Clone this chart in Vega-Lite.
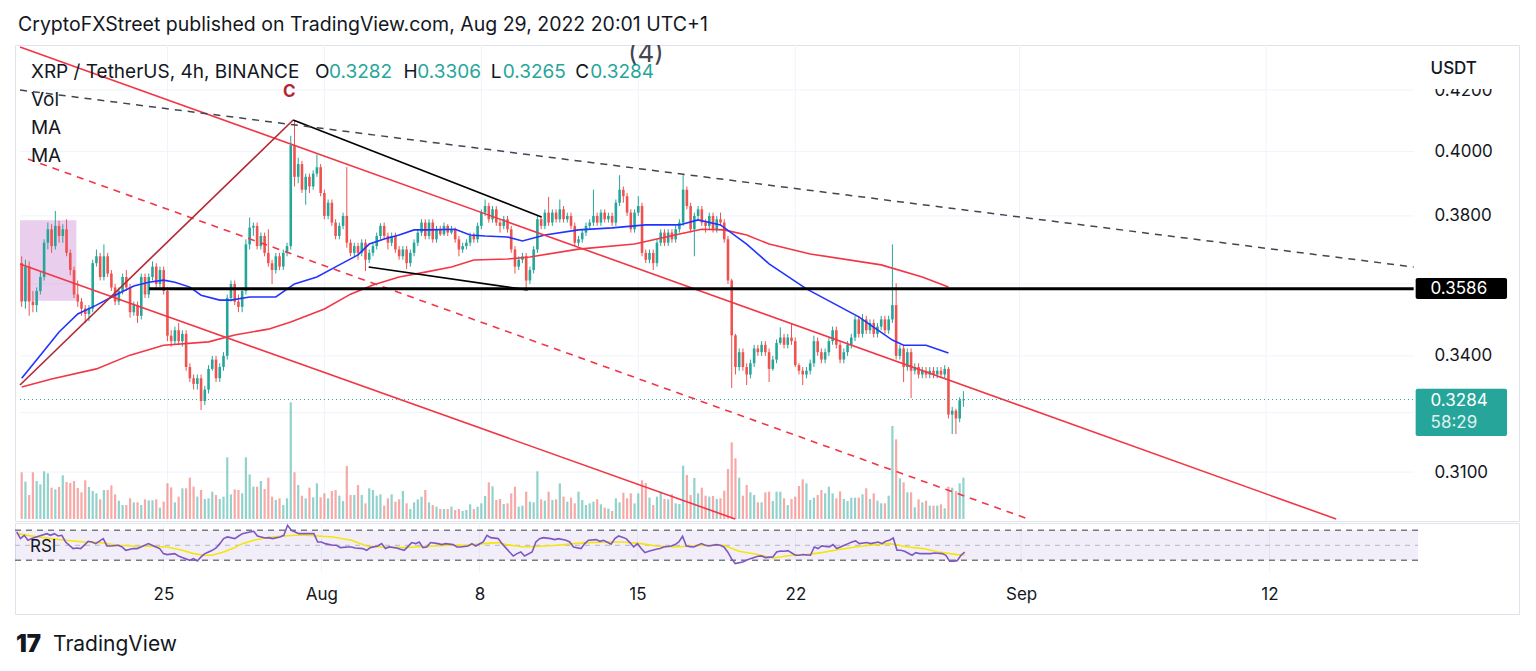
{
"$schema":"https://vega.github.io/schema/vega-lite/v6.json",
"background":"#ffffff",
"padding":{"left":13,"top":14,"right":17,"bottom":4},
"bounds":"flush",
"config":{"font":"Inter","view":{"stroke":"#e0e3eb"}},
"title":{"text":"CryptoFXStreet published on TradingView.com, Aug 29, 2022 20:01 UTC+1","anchor":"start","fontSize":19.5,"fontWeight":400,"color":"#131722","offset":9,"dx":5},
"spacing":2,
"datasets":{
"candles":[
{"t":"2022-07-18T12:00","o":0.366,"h":0.368,"l":0.3535,"c":0.355,"v":140},
{"t":"2022-07-18T16:00","o":0.355,"h":0.367,"l":0.353,"c":0.365,"v":112},
{"t":"2022-07-18T20:00","o":0.365,"h":0.3665,"l":0.351,"c":0.355,"v":72},
{"t":"2022-07-19T00:00","o":0.355,"h":0.358,"l":0.352,"c":0.354,"v":140},
{"t":"2022-07-19T04:00","o":0.354,"h":0.359,"l":0.352,"c":0.358,"v":114},
{"t":"2022-07-19T08:00","o":0.358,"h":0.3635,"l":0.357,"c":0.362,"v":104},
{"t":"2022-07-19T12:00","o":0.362,"h":0.373,"l":0.361,"c":0.372,"v":143},
{"t":"2022-07-19T16:00","o":0.372,"h":0.378,"l":0.370,"c":0.376,"v":137},
{"t":"2022-07-19T20:00","o":0.376,"h":0.3775,"l":0.369,"c":0.371,"v":94},
{"t":"2022-07-20T00:00","o":0.371,"h":0.3815,"l":0.370,"c":0.377,"v":89},
{"t":"2022-07-20T04:00","o":0.377,"h":0.3785,"l":0.372,"c":0.374,"v":96},
{"t":"2022-07-20T08:00","o":0.374,"h":0.3775,"l":0.372,"c":0.376,"v":131},
{"t":"2022-07-20T12:00","o":0.376,"h":0.379,"l":0.368,"c":0.369,"v":111},
{"t":"2022-07-20T16:00","o":0.369,"h":0.370,"l":0.3625,"c":0.364,"v":108},
{"t":"2022-07-20T20:00","o":0.364,"h":0.365,"l":0.356,"c":0.357,"v":114},
{"t":"2022-07-21T00:00","o":0.357,"h":0.361,"l":0.3535,"c":0.355,"v":93},
{"t":"2022-07-21T04:00","o":0.355,"h":0.356,"l":0.351,"c":0.353,"v":80},
{"t":"2022-07-21T08:00","o":0.353,"h":0.354,"l":0.349,"c":0.3515,"v":116},
{"t":"2022-07-21T12:00","o":0.3515,"h":0.354,"l":0.3495,"c":0.353,"v":96},
{"t":"2022-07-21T16:00","o":0.353,"h":0.367,"l":0.352,"c":0.366,"v":84},
{"t":"2022-07-21T20:00","o":0.366,"h":0.370,"l":0.365,"c":0.368,"v":77},
{"t":"2022-07-22T00:00","o":0.368,"h":0.369,"l":0.361,"c":0.362,"v":59},
{"t":"2022-07-22T04:00","o":0.362,"h":0.3715,"l":0.361,"c":0.368,"v":87},
{"t":"2022-07-22T08:00","o":0.368,"h":0.369,"l":0.362,"c":0.363,"v":87},
{"t":"2022-07-22T12:00","o":0.363,"h":0.364,"l":0.358,"c":0.359,"v":101},
{"t":"2022-07-22T16:00","o":0.359,"h":0.360,"l":0.354,"c":0.355,"v":74},
{"t":"2022-07-22T20:00","o":0.355,"h":0.359,"l":0.354,"c":0.358,"v":55},
{"t":"2022-07-23T00:00","o":0.358,"h":0.363,"l":0.357,"c":0.362,"v":42},
{"t":"2022-07-23T04:00","o":0.362,"h":0.364,"l":0.358,"c":0.359,"v":42},
{"t":"2022-07-23T08:00","o":0.359,"h":0.360,"l":0.3505,"c":0.352,"v":62},
{"t":"2022-07-23T12:00","o":0.352,"h":0.355,"l":0.351,"c":0.354,"v":50},
{"t":"2022-07-23T16:00","o":0.354,"h":0.355,"l":0.349,"c":0.351,"v":50},
{"t":"2022-07-23T20:00","o":0.351,"h":0.363,"l":0.350,"c":0.362,"v":42},
{"t":"2022-07-24T00:00","o":0.362,"h":0.363,"l":0.356,"c":0.357,"v":59},
{"t":"2022-07-24T04:00","o":0.357,"h":0.363,"l":0.356,"c":0.362,"v":56},
{"t":"2022-07-24T08:00","o":0.362,"h":0.3665,"l":0.361,"c":0.365,"v":56},
{"t":"2022-07-24T12:00","o":0.365,"h":0.366,"l":0.359,"c":0.360,"v":59},
{"t":"2022-07-24T16:00","o":0.360,"h":0.365,"l":0.359,"c":0.364,"v":34},
{"t":"2022-07-24T20:00","o":0.364,"h":0.365,"l":0.357,"c":0.358,"v":52},
{"t":"2022-07-25T00:00","o":0.358,"h":0.359,"l":0.344,"c":0.3455,"v":107},
{"t":"2022-07-25T04:00","o":0.3455,"h":0.347,"l":0.3425,"c":0.344,"v":95},
{"t":"2022-07-25T08:00","o":0.344,"h":0.348,"l":0.343,"c":0.347,"v":50},
{"t":"2022-07-25T12:00","o":0.347,"h":0.349,"l":0.343,"c":0.344,"v":67},
{"t":"2022-07-25T16:00","o":0.344,"h":0.347,"l":0.3425,"c":0.346,"v":92},
{"t":"2022-07-25T20:00","o":0.346,"h":0.347,"l":0.336,"c":0.337,"v":92},
{"t":"2022-07-26T00:00","o":0.337,"h":0.338,"l":0.333,"c":0.334,"v":124},
{"t":"2022-07-26T04:00","o":0.334,"h":0.335,"l":0.331,"c":0.3325,"v":97},
{"t":"2022-07-26T08:00","o":0.3325,"h":0.335,"l":0.331,"c":0.334,"v":67},
{"t":"2022-07-26T12:00","o":0.334,"h":0.335,"l":0.3257,"c":0.328,"v":87},
{"t":"2022-07-26T16:00","o":0.328,"h":0.332,"l":0.327,"c":0.331,"v":60},
{"t":"2022-07-26T20:00","o":0.331,"h":0.3375,"l":0.330,"c":0.3365,"v":62},
{"t":"2022-07-27T00:00","o":0.3365,"h":0.340,"l":0.336,"c":0.339,"v":82},
{"t":"2022-07-27T04:00","o":0.339,"h":0.340,"l":0.333,"c":0.334,"v":72},
{"t":"2022-07-27T08:00","o":0.334,"h":0.338,"l":0.333,"c":0.337,"v":60},
{"t":"2022-07-27T12:00","o":0.337,"h":0.341,"l":0.336,"c":0.340,"v":67},
{"t":"2022-07-27T16:00","o":0.340,"h":0.357,"l":0.339,"c":0.356,"v":185},
{"t":"2022-07-27T20:00","o":0.356,"h":0.361,"l":0.355,"c":0.360,"v":74},
{"t":"2022-07-28T00:00","o":0.360,"h":0.361,"l":0.354,"c":0.355,"v":89},
{"t":"2022-07-28T04:00","o":0.355,"h":0.357,"l":0.352,"c":0.3535,"v":87},
{"t":"2022-07-28T08:00","o":0.3535,"h":0.359,"l":0.352,"c":0.358,"v":77},
{"t":"2022-07-28T12:00","o":0.358,"h":0.373,"l":0.357,"c":0.3715,"v":185},
{"t":"2022-07-28T16:00","o":0.3715,"h":0.3795,"l":0.370,"c":0.3765,"v":134},
{"t":"2022-07-28T20:00","o":0.3765,"h":0.378,"l":0.374,"c":0.377,"v":97},
{"t":"2022-07-29T00:00","o":0.377,"h":0.378,"l":0.370,"c":0.371,"v":97},
{"t":"2022-07-29T04:00","o":0.371,"h":0.375,"l":0.370,"c":0.374,"v":114},
{"t":"2022-07-29T08:00","o":0.374,"h":0.375,"l":0.368,"c":0.369,"v":90},
{"t":"2022-07-29T12:00","o":0.369,"h":0.376,"l":0.365,"c":0.366,"v":124},
{"t":"2022-07-29T16:00","o":0.366,"h":0.367,"l":0.360,"c":0.364,"v":67},
{"t":"2022-07-29T20:00","o":0.364,"h":0.369,"l":0.363,"c":0.368,"v":57},
{"t":"2022-07-30T00:00","o":0.368,"h":0.369,"l":0.364,"c":0.365,"v":62},
{"t":"2022-07-30T04:00","o":0.365,"h":0.370,"l":0.364,"c":0.369,"v":42},
{"t":"2022-07-30T08:00","o":0.369,"h":0.372,"l":0.368,"c":0.371,"v":62},
{"t":"2022-07-30T12:00","o":0.371,"h":0.405,"l":0.370,"c":0.402,"v":350},
{"t":"2022-07-30T16:00","o":0.402,"h":0.410,"l":0.389,"c":0.392,"v":140},
{"t":"2022-07-30T20:00","o":0.392,"h":0.398,"l":0.390,"c":0.396,"v":102},
{"t":"2022-07-31T00:00","o":0.396,"h":0.397,"l":0.387,"c":0.388,"v":70},
{"t":"2022-07-31T04:00","o":0.388,"h":0.393,"l":0.3834,"c":0.392,"v":62},
{"t":"2022-07-31T08:00","o":0.392,"h":0.393,"l":0.387,"c":0.389,"v":94},
{"t":"2022-07-31T12:00","o":0.389,"h":0.394,"l":0.388,"c":0.393,"v":65},
{"t":"2022-07-31T16:00","o":0.393,"h":0.399,"l":0.392,"c":0.395,"v":107},
{"t":"2022-07-31T20:00","o":0.395,"h":0.396,"l":0.386,"c":0.387,"v":65},
{"t":"2022-08-01T00:00","o":0.387,"h":0.388,"l":0.379,"c":0.380,"v":77},
{"t":"2022-08-01T04:00","o":0.380,"h":0.385,"l":0.379,"c":0.384,"v":62},
{"t":"2022-08-01T08:00","o":0.384,"h":0.385,"l":0.377,"c":0.378,"v":84},
{"t":"2022-08-01T12:00","o":0.378,"h":0.379,"l":0.373,"c":0.374,"v":87},
{"t":"2022-08-01T16:00","o":0.374,"h":0.378,"l":0.373,"c":0.377,"v":70},
{"t":"2022-08-01T20:00","o":0.377,"h":0.381,"l":0.376,"c":0.380,"v":54},
{"t":"2022-08-02T00:00","o":0.380,"h":0.395,"l":0.3705,"c":0.372,"v":159},
{"t":"2022-08-02T04:00","o":0.372,"h":0.373,"l":0.368,"c":0.369,"v":72},
{"t":"2022-08-02T08:00","o":0.369,"h":0.372,"l":0.368,"c":0.371,"v":72},
{"t":"2022-08-02T12:00","o":0.371,"h":0.372,"l":0.367,"c":0.369,"v":102},
{"t":"2022-08-02T16:00","o":0.369,"h":0.373,"l":0.368,"c":0.372,"v":72},
{"t":"2022-08-02T20:00","o":0.372,"h":0.373,"l":0.3637,"c":0.367,"v":47},
{"t":"2022-08-03T00:00","o":0.367,"h":0.370,"l":0.366,"c":0.369,"v":92},
{"t":"2022-08-03T04:00","o":0.369,"h":0.372,"l":0.368,"c":0.371,"v":87},
{"t":"2022-08-03T08:00","o":0.371,"h":0.375,"l":0.370,"c":0.374,"v":70},
{"t":"2022-08-03T12:00","o":0.374,"h":0.3778,"l":0.373,"c":0.377,"v":74},
{"t":"2022-08-03T16:00","o":0.377,"h":0.378,"l":0.373,"c":0.374,"v":40},
{"t":"2022-08-03T20:00","o":0.374,"h":0.375,"l":0.370,"c":0.372,"v":62},
{"t":"2022-08-04T00:00","o":0.372,"h":0.375,"l":0.371,"c":0.374,"v":74},
{"t":"2022-08-04T04:00","o":0.374,"h":0.375,"l":0.369,"c":0.370,"v":52},
{"t":"2022-08-04T08:00","o":0.370,"h":0.371,"l":0.367,"c":0.368,"v":59},
{"t":"2022-08-04T12:00","o":0.368,"h":0.371,"l":0.367,"c":0.370,"v":84},
{"t":"2022-08-04T16:00","o":0.370,"h":0.371,"l":0.3643,"c":0.366,"v":47},
{"t":"2022-08-04T20:00","o":0.366,"h":0.370,"l":0.365,"c":0.369,"v":30},
{"t":"2022-08-05T00:00","o":0.369,"h":0.373,"l":0.368,"c":0.372,"v":50},
{"t":"2022-08-05T04:00","o":0.372,"h":0.376,"l":0.371,"c":0.375,"v":59},
{"t":"2022-08-05T08:00","o":0.375,"h":0.379,"l":0.374,"c":0.378,"v":67},
{"t":"2022-08-05T12:00","o":0.378,"h":0.379,"l":0.373,"c":0.374,"v":87},
{"t":"2022-08-05T16:00","o":0.374,"h":0.379,"l":0.373,"c":0.378,"v":50},
{"t":"2022-08-05T20:00","o":0.378,"h":0.379,"l":0.372,"c":0.373,"v":42},
{"t":"2022-08-06T00:00","o":0.373,"h":0.377,"l":0.372,"c":0.376,"v":37},
{"t":"2022-08-06T04:00","o":0.376,"h":0.377,"l":0.374,"c":0.3745,"v":30},
{"t":"2022-08-06T08:00","o":0.3745,"h":0.378,"l":0.374,"c":0.377,"v":30},
{"t":"2022-08-06T12:00","o":0.377,"h":0.3775,"l":0.374,"c":0.375,"v":30},
{"t":"2022-08-06T16:00","o":0.375,"h":0.377,"l":0.3745,"c":0.376,"v":37},
{"t":"2022-08-06T20:00","o":0.376,"h":0.3765,"l":0.372,"c":0.373,"v":27},
{"t":"2022-08-07T00:00","o":0.373,"h":0.374,"l":0.368,"c":0.370,"v":30},
{"t":"2022-08-07T04:00","o":0.370,"h":0.372,"l":0.369,"c":0.371,"v":24},
{"t":"2022-08-07T08:00","o":0.371,"h":0.373,"l":0.370,"c":0.372,"v":27},
{"t":"2022-08-07T12:00","o":0.372,"h":0.375,"l":0.371,"c":0.374,"v":44},
{"t":"2022-08-07T16:00","o":0.374,"h":0.375,"l":0.372,"c":0.373,"v":30},
{"t":"2022-08-07T20:00","o":0.373,"h":0.378,"l":0.372,"c":0.377,"v":37},
{"t":"2022-08-08T00:00","o":0.377,"h":0.382,"l":0.376,"c":0.381,"v":47},
{"t":"2022-08-08T04:00","o":0.381,"h":0.385,"l":0.380,"c":0.383,"v":69},
{"t":"2022-08-08T08:00","o":0.383,"h":0.384,"l":0.378,"c":0.379,"v":110},
{"t":"2022-08-08T12:00","o":0.379,"h":0.383,"l":0.378,"c":0.382,"v":98},
{"t":"2022-08-08T16:00","o":0.382,"h":0.383,"l":0.377,"c":0.378,"v":57},
{"t":"2022-08-08T20:00","o":0.378,"h":0.379,"l":0.375,"c":0.377,"v":60},
{"t":"2022-08-09T00:00","o":0.377,"h":0.380,"l":0.376,"c":0.379,"v":45},
{"t":"2022-08-09T04:00","o":0.379,"h":0.380,"l":0.375,"c":0.376,"v":47},
{"t":"2022-08-09T08:00","o":0.376,"h":0.377,"l":0.369,"c":0.370,"v":77},
{"t":"2022-08-09T12:00","o":0.370,"h":0.371,"l":0.363,"c":0.365,"v":97},
{"t":"2022-08-09T16:00","o":0.365,"h":0.368,"l":0.364,"c":0.367,"v":37},
{"t":"2022-08-09T20:00","o":0.367,"h":0.369,"l":0.366,"c":0.368,"v":40},
{"t":"2022-08-10T00:00","o":0.368,"h":0.369,"l":0.3586,"c":0.361,"v":82},
{"t":"2022-08-10T04:00","o":0.361,"h":0.365,"l":0.360,"c":0.364,"v":52},
{"t":"2022-08-10T08:00","o":0.364,"h":0.371,"l":0.363,"c":0.370,"v":50},
{"t":"2022-08-10T12:00","o":0.370,"h":0.380,"l":0.369,"c":0.379,"v":143},
{"t":"2022-08-10T16:00","o":0.379,"h":0.380,"l":0.376,"c":0.377,"v":59},
{"t":"2022-08-10T20:00","o":0.377,"h":0.382,"l":0.376,"c":0.381,"v":55},
{"t":"2022-08-11T00:00","o":0.381,"h":0.3858,"l":0.377,"c":0.378,"v":82},
{"t":"2022-08-11T04:00","o":0.378,"h":0.382,"l":0.377,"c":0.381,"v":57},
{"t":"2022-08-11T08:00","o":0.381,"h":0.382,"l":0.378,"c":0.379,"v":59},
{"t":"2022-08-11T12:00","o":0.379,"h":0.385,"l":0.378,"c":0.382,"v":107},
{"t":"2022-08-11T16:00","o":0.382,"h":0.383,"l":0.378,"c":0.379,"v":67},
{"t":"2022-08-11T20:00","o":0.379,"h":0.381,"l":0.378,"c":0.380,"v":52},
{"t":"2022-08-12T00:00","o":0.380,"h":0.381,"l":0.376,"c":0.377,"v":64},
{"t":"2022-08-12T04:00","o":0.377,"h":0.378,"l":0.371,"c":0.372,"v":47},
{"t":"2022-08-12T08:00","o":0.372,"h":0.374,"l":0.371,"c":0.373,"v":82},
{"t":"2022-08-12T12:00","o":0.373,"h":0.376,"l":0.372,"c":0.375,"v":57},
{"t":"2022-08-12T16:00","o":0.375,"h":0.378,"l":0.374,"c":0.377,"v":42},
{"t":"2022-08-12T20:00","o":0.377,"h":0.379,"l":0.376,"c":0.378,"v":47},
{"t":"2022-08-13T00:00","o":0.378,"h":0.388,"l":0.377,"c":0.380,"v":52},
{"t":"2022-08-13T04:00","o":0.380,"h":0.381,"l":0.377,"c":0.378,"v":59},
{"t":"2022-08-13T08:00","o":0.378,"h":0.382,"l":0.377,"c":0.381,"v":44},
{"t":"2022-08-13T12:00","o":0.381,"h":0.382,"l":0.378,"c":0.379,"v":34},
{"t":"2022-08-13T16:00","o":0.379,"h":0.381,"l":0.378,"c":0.380,"v":31},
{"t":"2022-08-13T20:00","o":0.380,"h":0.381,"l":0.377,"c":0.378,"v":24},
{"t":"2022-08-14T00:00","o":0.378,"h":0.385,"l":0.377,"c":0.384,"v":62},
{"t":"2022-08-14T04:00","o":0.384,"h":0.3925,"l":0.383,"c":0.388,"v":50},
{"t":"2022-08-14T08:00","o":0.388,"h":0.389,"l":0.384,"c":0.386,"v":79},
{"t":"2022-08-14T12:00","o":0.386,"h":0.387,"l":0.380,"c":0.381,"v":62},
{"t":"2022-08-14T16:00","o":0.381,"h":0.382,"l":0.375,"c":0.376,"v":77},
{"t":"2022-08-14T20:00","o":0.376,"h":0.382,"l":0.375,"c":0.381,"v":47},
{"t":"2022-08-15T00:00","o":0.381,"h":0.386,"l":0.380,"c":0.383,"v":77},
{"t":"2022-08-15T04:00","o":0.383,"h":0.384,"l":0.368,"c":0.369,"v":116},
{"t":"2022-08-15T08:00","o":0.369,"h":0.370,"l":0.366,"c":0.367,"v":108},
{"t":"2022-08-15T12:00","o":0.367,"h":0.370,"l":0.366,"c":0.369,"v":64},
{"t":"2022-08-15T16:00","o":0.369,"h":0.370,"l":0.364,"c":0.366,"v":42},
{"t":"2022-08-15T20:00","o":0.366,"h":0.373,"l":0.365,"c":0.372,"v":67},
{"t":"2022-08-16T00:00","o":0.372,"h":0.376,"l":0.371,"c":0.375,"v":82},
{"t":"2022-08-16T04:00","o":0.375,"h":0.376,"l":0.371,"c":0.372,"v":60},
{"t":"2022-08-16T08:00","o":0.372,"h":0.376,"l":0.371,"c":0.375,"v":59},
{"t":"2022-08-16T12:00","o":0.375,"h":0.376,"l":0.372,"c":0.373,"v":74},
{"t":"2022-08-16T16:00","o":0.373,"h":0.377,"l":0.372,"c":0.376,"v":47},
{"t":"2022-08-16T20:00","o":0.376,"h":0.379,"l":0.375,"c":0.378,"v":45},
{"t":"2022-08-17T00:00","o":0.378,"h":0.3925,"l":0.377,"c":0.388,"v":160},
{"t":"2022-08-17T04:00","o":0.388,"h":0.389,"l":0.382,"c":0.383,"v":132},
{"t":"2022-08-17T08:00","o":0.383,"h":0.384,"l":0.375,"c":0.376,"v":72},
{"t":"2022-08-17T12:00","o":0.376,"h":0.381,"l":0.368,"c":0.380,"v":123},
{"t":"2022-08-17T16:00","o":0.380,"h":0.383,"l":0.379,"c":0.382,"v":77},
{"t":"2022-08-17T20:00","o":0.382,"h":0.383,"l":0.377,"c":0.378,"v":94},
{"t":"2022-08-18T00:00","o":0.378,"h":0.379,"l":0.375,"c":0.377,"v":70},
{"t":"2022-08-18T04:00","o":0.377,"h":0.381,"l":0.376,"c":0.380,"v":67},
{"t":"2022-08-18T08:00","o":0.380,"h":0.381,"l":0.375,"c":0.376,"v":69},
{"t":"2022-08-18T12:00","o":0.376,"h":0.380,"l":0.375,"c":0.379,"v":60},
{"t":"2022-08-18T16:00","o":0.379,"h":0.381,"l":0.377,"c":0.378,"v":62},
{"t":"2022-08-18T20:00","o":0.378,"h":0.379,"l":0.372,"c":0.373,"v":85},
{"t":"2022-08-19T00:00","o":0.373,"h":0.374,"l":0.360,"c":0.361,"v":150},
{"t":"2022-08-19T04:00","o":0.361,"h":0.3615,"l":0.3314,"c":0.3456,"v":230},
{"t":"2022-08-19T08:00","o":0.3456,"h":0.346,"l":0.335,"c":0.337,"v":182},
{"t":"2022-08-19T12:00","o":0.337,"h":0.342,"l":0.336,"c":0.341,"v":124},
{"t":"2022-08-19T16:00","o":0.341,"h":0.342,"l":0.336,"c":0.337,"v":70},
{"t":"2022-08-19T20:00","o":0.337,"h":0.338,"l":0.3322,"c":0.335,"v":102},
{"t":"2022-08-20T00:00","o":0.335,"h":0.339,"l":0.334,"c":0.338,"v":80},
{"t":"2022-08-20T04:00","o":0.338,"h":0.343,"l":0.337,"c":0.342,"v":72},
{"t":"2022-08-20T08:00","o":0.342,"h":0.343,"l":0.340,"c":0.341,"v":50},
{"t":"2022-08-20T12:00","o":0.341,"h":0.344,"l":0.340,"c":0.343,"v":50},
{"t":"2022-08-20T16:00","o":0.343,"h":0.344,"l":0.340,"c":0.341,"v":80},
{"t":"2022-08-20T20:00","o":0.341,"h":0.342,"l":0.333,"c":0.3365,"v":82},
{"t":"2022-08-21T00:00","o":0.3365,"h":0.340,"l":0.336,"c":0.339,"v":54},
{"t":"2022-08-21T04:00","o":0.339,"h":0.3445,"l":0.338,"c":0.3435,"v":82},
{"t":"2022-08-21T08:00","o":0.3435,"h":0.3478,"l":0.343,"c":0.345,"v":82},
{"t":"2022-08-21T12:00","o":0.345,"h":0.346,"l":0.342,"c":0.343,"v":62},
{"t":"2022-08-21T16:00","o":0.343,"h":0.346,"l":0.342,"c":0.345,"v":42},
{"t":"2022-08-21T20:00","o":0.345,"h":0.349,"l":0.343,"c":0.344,"v":60},
{"t":"2022-08-22T00:00","o":0.344,"h":0.345,"l":0.337,"c":0.3375,"v":67},
{"t":"2022-08-22T04:00","o":0.3375,"h":0.338,"l":0.335,"c":0.336,"v":99},
{"t":"2022-08-22T08:00","o":0.336,"h":0.337,"l":0.3322,"c":0.335,"v":119},
{"t":"2022-08-22T12:00","o":0.335,"h":0.337,"l":0.334,"c":0.336,"v":107},
{"t":"2022-08-22T16:00","o":0.336,"h":0.339,"l":0.335,"c":0.338,"v":57},
{"t":"2022-08-22T20:00","o":0.338,"h":0.3455,"l":0.337,"c":0.344,"v":64},
{"t":"2022-08-23T00:00","o":0.344,"h":0.345,"l":0.340,"c":0.341,"v":72},
{"t":"2022-08-23T04:00","o":0.341,"h":0.342,"l":0.338,"c":0.339,"v":87},
{"t":"2022-08-23T08:00","o":0.339,"h":0.342,"l":0.338,"c":0.341,"v":77},
{"t":"2022-08-23T12:00","o":0.341,"h":0.345,"l":0.340,"c":0.344,"v":97},
{"t":"2022-08-23T16:00","o":0.344,"h":0.348,"l":0.343,"c":0.347,"v":77},
{"t":"2022-08-23T20:00","o":0.347,"h":0.348,"l":0.342,"c":0.343,"v":62},
{"t":"2022-08-24T00:00","o":0.343,"h":0.344,"l":0.338,"c":0.339,"v":83},
{"t":"2022-08-24T04:00","o":0.339,"h":0.342,"l":0.338,"c":0.341,"v":60},
{"t":"2022-08-24T08:00","o":0.341,"h":0.344,"l":0.340,"c":0.343,"v":54},
{"t":"2022-08-24T12:00","o":0.343,"h":0.346,"l":0.342,"c":0.345,"v":64},
{"t":"2022-08-24T16:00","o":0.345,"h":0.351,"l":0.344,"c":0.350,"v":64},
{"t":"2022-08-24T20:00","o":0.350,"h":0.351,"l":0.345,"c":0.346,"v":64},
{"t":"2022-08-25T00:00","o":0.346,"h":0.3515,"l":0.345,"c":0.350,"v":74},
{"t":"2022-08-25T04:00","o":0.350,"h":0.351,"l":0.346,"c":0.347,"v":92},
{"t":"2022-08-25T08:00","o":0.347,"h":0.350,"l":0.346,"c":0.349,"v":60},
{"t":"2022-08-25T12:00","o":0.349,"h":0.350,"l":0.345,"c":0.346,"v":77},
{"t":"2022-08-25T16:00","o":0.346,"h":0.349,"l":0.345,"c":0.348,"v":55},
{"t":"2022-08-25T20:00","o":0.348,"h":0.351,"l":0.347,"c":0.350,"v":47},
{"t":"2022-08-26T00:00","o":0.350,"h":0.351,"l":0.346,"c":0.347,"v":47},
{"t":"2022-08-26T04:00","o":0.347,"h":0.351,"l":0.346,"c":0.350,"v":70},
{"t":"2022-08-26T08:00","o":0.350,"h":0.3715,"l":0.349,"c":0.354,"v":279},
{"t":"2022-08-26T12:00","o":0.354,"h":0.3602,"l":0.339,"c":0.340,"v":239},
{"t":"2022-08-26T16:00","o":0.340,"h":0.343,"l":0.339,"c":0.342,"v":122},
{"t":"2022-08-26T20:00","o":0.342,"h":0.343,"l":0.333,"c":0.337,"v":110},
{"t":"2022-08-27T00:00","o":0.337,"h":0.342,"l":0.336,"c":0.341,"v":80},
{"t":"2022-08-27T04:00","o":0.341,"h":0.342,"l":0.3288,"c":0.336,"v":80},
{"t":"2022-08-27T08:00","o":0.336,"h":0.338,"l":0.335,"c":0.337,"v":35},
{"t":"2022-08-27T12:00","o":0.337,"h":0.338,"l":0.334,"c":0.335,"v":59},
{"t":"2022-08-27T16:00","o":0.335,"h":0.337,"l":0.334,"c":0.336,"v":50},
{"t":"2022-08-27T20:00","o":0.336,"h":0.337,"l":0.334,"c":0.335,"v":55},
{"t":"2022-08-28T00:00","o":0.335,"h":0.337,"l":0.334,"c":0.336,"v":40},
{"t":"2022-08-28T04:00","o":0.336,"h":0.337,"l":0.334,"c":0.335,"v":40},
{"t":"2022-08-28T08:00","o":0.335,"h":0.337,"l":0.334,"c":0.336,"v":40},
{"t":"2022-08-28T12:00","o":0.336,"h":0.337,"l":0.334,"c":0.335,"v":44},
{"t":"2022-08-28T16:00","o":0.335,"h":0.3375,"l":0.334,"c":0.3365,"v":32},
{"t":"2022-08-28T20:00","o":0.3365,"h":0.337,"l":0.3235,"c":0.3245,"v":97},
{"t":"2022-08-29T00:00","o":0.3245,"h":0.3265,"l":0.3195,"c":0.3255,"v":94},
{"t":"2022-08-29T04:00","o":0.3255,"h":0.326,"l":0.3195,"c":0.3235,"v":84},
{"t":"2022-08-29T08:00","o":0.3235,"h":0.329,"l":0.3225,"c":0.3282,"v":107},
{"t":"2022-08-29T12:00","o":0.3282,"h":0.3306,"l":0.3265,"c":0.3284,"v":124}
],
"maBlue":[
{"t":"2022-07-18T12:00","p":0.3340},{"t":"2022-07-19T08:00","p":0.3402},{"t":"2022-07-20T04:00","p":0.3465},{"t":"2022-07-21T00:00","p":0.3515},{"t":"2022-07-21T20:00","p":0.3540},{"t":"2022-07-22T16:00","p":0.3568},{"t":"2022-07-23T12:00","p":0.3594},{"t":"2022-07-24T04:00","p":0.3605},{"t":"2022-07-24T20:00","p":0.3611},{"t":"2022-07-25T08:00","p":0.3605},{"t":"2022-07-26T00:00","p":0.3591},{"t":"2022-07-26T12:00","p":0.3568},{"t":"2022-07-27T08:00","p":0.3554},{"t":"2022-07-27T20:00","p":0.3554},{"t":"2022-07-28T16:00","p":0.3563},{"t":"2022-07-29T20:00","p":0.3563},{"t":"2022-07-30T16:00","p":0.3600},{"t":"2022-07-31T16:00","p":0.3620},{"t":"2022-08-01T16:00","p":0.3655},{"t":"2022-08-02T12:00","p":0.3684},{"t":"2022-08-03T00:00","p":0.3716},{"t":"2022-08-03T16:00","p":0.3731},{"t":"2022-08-04T08:00","p":0.3743},{"t":"2022-08-05T00:00","p":0.3758},{"t":"2022-08-05T16:00","p":0.3758},{"t":"2022-08-06T20:00","p":0.3760},{"t":"2022-08-07T12:00","p":0.3743},{"t":"2022-08-08T04:00","p":0.3740},{"t":"2022-08-09T04:00","p":0.3737},{"t":"2022-08-09T20:00","p":0.3725},{"t":"2022-08-10T20:00","p":0.3743},{"t":"2022-08-12T08:00","p":0.3758},{"t":"2022-08-13T20:00","p":0.3764},{"t":"2022-08-15T08:00","p":0.3773},{"t":"2022-08-16T20:00","p":0.3773},{"t":"2022-08-17T16:00","p":0.3788},{"t":"2022-08-18T16:00","p":0.3773},{"t":"2022-08-19T20:00","p":0.3716},{"t":"2022-08-20T20:00","p":0.3658},{"t":"2022-08-22T12:00","p":0.3586},{"t":"2022-08-24T20:00","p":0.3507},{"t":"2022-08-26T08:00","p":0.3443},{"t":"2022-08-26T20:00","p":0.3429},{"t":"2022-08-27T20:00","p":0.3429},{"t":"2022-08-28T20:00","p":0.3408}
],
"maRed":[
{"t":"2022-07-18T12:00","p":0.3317},{"t":"2022-07-19T20:00","p":0.3338},{"t":"2022-07-21T20:00","p":0.3365},{"t":"2022-07-23T08:00","p":0.3402},{"t":"2022-07-24T20:00","p":0.3429},{"t":"2022-07-26T20:00","p":0.3438},{"t":"2022-07-28T00:00","p":0.3457},{"t":"2022-07-29T12:00","p":0.3473},{"t":"2022-07-30T12:00","p":0.3493},{"t":"2022-08-01T00:00","p":0.3529},{"t":"2022-08-02T04:00","p":0.3571},{"t":"2022-08-03T04:00","p":0.3597},{"t":"2022-08-04T08:00","p":0.3620},{"t":"2022-08-05T12:00","p":0.3634},{"t":"2022-08-06T16:00","p":0.3649},{"t":"2022-08-07T16:00","p":0.3669},{"t":"2022-08-09T04:00","p":0.3672},{"t":"2022-08-10T04:00","p":0.3678},{"t":"2022-08-12T08:00","p":0.3701},{"t":"2022-08-14T20:00","p":0.3716},{"t":"2022-08-16T20:00","p":0.3746},{"t":"2022-08-17T20:00","p":0.3760},{"t":"2022-08-18T20:00","p":0.3758},{"t":"2022-08-19T20:00","p":0.3743},{"t":"2022-08-20T20:00","p":0.3716},{"t":"2022-08-22T16:00","p":0.3687},{"t":"2022-08-25T20:00","p":0.3655},{"t":"2022-08-27T16:00","p":0.3620},{"t":"2022-08-28T20:00","p":0.3591}
],
"lines":[
{"name":"U","t1":"2022-07-18T10:11","p1":0.4346,"t2":"2022-09-15T03:00","p2":0.29865},
{"name":"L","t1":"2022-07-18T10:11","p1":0.36575,"t2":"2022-08-19T07:45","p2":0.29865},
{"name":"M","t1":"2022-07-18T18:42","p1":0.39758,"t2":"2022-09-01T09:25","p2":0.29865},
{"name":"R","t1":"2022-07-18T10:11","p1":0.33222,"t2":"2022-07-30T14:35","p2":0.4101},
{"name":"B1","t1":"2022-07-30T14:35","p1":0.4101,"t2":"2022-08-10T16:25","p2":0.37967},
{"name":"B2","t1":"2022-08-02T23:24","p1":0.36488,"t2":"2022-08-10T01:30","p2":0.3583},
{"name":"D","t1":"2022-07-18T10:11","p1":0.4200,"t2":"2022-09-18T13:58","p2":0.36488},
{"name":"H","t1":"2022-07-24T04:25","p1":0.3586,"t2":"2022-09-18T13:58","p2":0.3586}
],
"rsi":[
{"t":"2022-07-18T12:00","r":67.8},{"t":"2022-07-18T16:00","r":58.9},{"t":"2022-07-18T20:00","r":63.3},{"t":"2022-07-19T00:00","r":56.7},{"t":"2022-07-19T04:00","r":58.9},{"t":"2022-07-19T12:00","r":62.4},{"t":"2022-07-19T20:00","r":65.5},{"t":"2022-07-20T00:00","r":63.3},{"t":"2022-07-20T04:00","r":65.5},{"t":"2022-07-20T08:00","r":62.4},{"t":"2022-07-20T12:00","r":63.3},{"t":"2022-07-20T16:00","r":54.4},{"t":"2022-07-21T00:00","r":45.6},{"t":"2022-07-21T04:00","r":46.4},{"t":"2022-07-21T08:00","r":45.6},{"t":"2022-07-21T16:00","r":55.3},{"t":"2022-07-21T20:00","r":54.4},{"t":"2022-07-22T00:00","r":52.2},{"t":"2022-07-22T08:00","r":58.9},{"t":"2022-07-22T12:00","r":49.1},{"t":"2022-07-22T16:00","r":49.1},{"t":"2022-07-23T00:00","r":50},{"t":"2022-07-23T04:00","r":47.8},{"t":"2022-07-23T08:00","r":43.3},{"t":"2022-07-23T16:00","r":45.6},{"t":"2022-07-23T20:00","r":45.6},{"t":"2022-07-24T00:00","r":47.8},{"t":"2022-07-24T08:00","r":52.2},{"t":"2022-07-24T12:00","r":50},{"t":"2022-07-24T16:00","r":47.8},{"t":"2022-07-24T20:00","r":45.6},{"t":"2022-07-25T00:00","r":38.9},{"t":"2022-07-25T04:00","r":37.6},{"t":"2022-07-25T12:00","r":38.9},{"t":"2022-07-25T16:00","r":35.8},{"t":"2022-07-25T20:00","r":33.6},{"t":"2022-07-26T04:00","r":30},{"t":"2022-07-26T08:00","r":32.2},{"t":"2022-07-26T12:00","r":29.1},{"t":"2022-07-26T16:00","r":34.5},{"t":"2022-07-26T20:00","r":38.9},{"t":"2022-07-27T00:00","r":41.1},{"t":"2022-07-27T04:00","r":43.3},{"t":"2022-07-27T08:00","r":46.4},{"t":"2022-07-27T12:00","r":52.2},{"t":"2022-07-27T16:00","r":58.9},{"t":"2022-07-27T20:00","r":61.1},{"t":"2022-07-28T04:00","r":58.9},{"t":"2022-07-28T08:00","r":62.4},{"t":"2022-07-28T12:00","r":65.5},{"t":"2022-07-28T20:00","r":67.8},{"t":"2022-07-29T00:00","r":68.7},{"t":"2022-07-29T04:00","r":62.4},{"t":"2022-07-29T12:00","r":59.8},{"t":"2022-07-29T16:00","r":60.2},{"t":"2022-07-29T20:00","r":58.9},{"t":"2022-07-30T04:00","r":61.1},{"t":"2022-07-30T08:00","r":63.3},{"t":"2022-07-30T12:00","r":76.6},{"t":"2022-07-30T16:00","r":70},{"t":"2022-07-30T20:00","r":67.8},{"t":"2022-07-31T00:00","r":65.5},{"t":"2022-07-31T04:00","r":65.5},{"t":"2022-07-31T12:00","r":65.5},{"t":"2022-07-31T16:00","r":65.5},{"t":"2022-07-31T20:00","r":54.4},{"t":"2022-08-01T00:00","r":54.4},{"t":"2022-08-01T04:00","r":52.2},{"t":"2022-08-01T12:00","r":50},{"t":"2022-08-01T16:00","r":50},{"t":"2022-08-01T20:00","r":46.9},{"t":"2022-08-02T04:00","r":47.8},{"t":"2022-08-02T08:00","r":47.8},{"t":"2022-08-02T12:00","r":46.4},{"t":"2022-08-02T20:00","r":45.6},{"t":"2022-08-03T00:00","r":43.3},{"t":"2022-08-03T04:00","r":46.9},{"t":"2022-08-03T12:00","r":49.1},{"t":"2022-08-03T16:00","r":52.2},{"t":"2022-08-03T20:00","r":45.6},{"t":"2022-08-04T00:00","r":47.8},{"t":"2022-08-04T08:00","r":46.4},{"t":"2022-08-04T12:00","r":44.7},{"t":"2022-08-04T16:00","r":43.3},{"t":"2022-08-05T00:00","r":53.6},{"t":"2022-08-05T04:00","r":52.2},{"t":"2022-08-05T08:00","r":54.4},{"t":"2022-08-05T12:00","r":46.9},{"t":"2022-08-05T16:00","r":47.8},{"t":"2022-08-05T20:00","r":53.6},{"t":"2022-08-06T04:00","r":52.2},{"t":"2022-08-06T08:00","r":50.9},{"t":"2022-08-06T12:00","r":52.2},{"t":"2022-08-06T20:00","r":50.9},{"t":"2022-08-07T00:00","r":47.8},{"t":"2022-08-07T04:00","r":47.8},{"t":"2022-08-07T12:00","r":49.1},{"t":"2022-08-07T16:00","r":52.2},{"t":"2022-08-07T20:00","r":49.1},{"t":"2022-08-08T04:00","r":54.4},{"t":"2022-08-08T08:00","r":63.3},{"t":"2022-08-08T12:00","r":60.2},{"t":"2022-08-08T20:00","r":58.9},{"t":"2022-08-09T00:00","r":52.2},{"t":"2022-08-09T08:00","r":41.1},{"t":"2022-08-09T12:00","r":35.8},{"t":"2022-08-09T16:00","r":38.9},{"t":"2022-08-09T20:00","r":41.1},{"t":"2022-08-10T00:00","r":35.8},{"t":"2022-08-10T08:00","r":41.1},{"t":"2022-08-10T12:00","r":54.4},{"t":"2022-08-10T16:00","r":58.9},{"t":"2022-08-10T20:00","r":60.2},{"t":"2022-08-11T04:00","r":58.9},{"t":"2022-08-11T08:00","r":57.6},{"t":"2022-08-11T12:00","r":58.9},{"t":"2022-08-11T20:00","r":56.7},{"t":"2022-08-12T00:00","r":54.4},{"t":"2022-08-12T04:00","r":47.8},{"t":"2022-08-12T12:00","r":45.6},{"t":"2022-08-12T16:00","r":52.2},{"t":"2022-08-12T20:00","r":56.7},{"t":"2022-08-13T04:00","r":57.6},{"t":"2022-08-13T08:00","r":55.3},{"t":"2022-08-13T12:00","r":56.7},{"t":"2022-08-13T20:00","r":51.3},{"t":"2022-08-14T00:00","r":58.9},{"t":"2022-08-14T04:00","r":62.4},{"t":"2022-08-14T12:00","r":58.9},{"t":"2022-08-14T16:00","r":53.6},{"t":"2022-08-14T20:00","r":47.8},{"t":"2022-08-15T00:00","r":52.2},{"t":"2022-08-15T04:00","r":45.6},{"t":"2022-08-15T08:00","r":40.2},{"t":"2022-08-15T12:00","r":42},{"t":"2022-08-15T20:00","r":44.7},{"t":"2022-08-16T00:00","r":45.6},{"t":"2022-08-16T04:00","r":47.8},{"t":"2022-08-16T12:00","r":49.1},{"t":"2022-08-16T16:00","r":50.9},{"t":"2022-08-16T20:00","r":54.4},{"t":"2022-08-17T00:00","r":62},{"t":"2022-08-17T04:00","r":49.1},{"t":"2022-08-17T08:00","r":48.2},{"t":"2022-08-17T12:00","r":47.8},{"t":"2022-08-17T20:00","r":52.2},{"t":"2022-08-18T00:00","r":50},{"t":"2022-08-18T04:00","r":49.1},{"t":"2022-08-18T12:00","r":50.9},{"t":"2022-08-18T16:00","r":50},{"t":"2022-08-18T20:00","r":47.8},{"t":"2022-08-19T00:00","r":41.1},{"t":"2022-08-19T04:00","r":32.2},{"t":"2022-08-19T08:00","r":25.6},{"t":"2022-08-19T16:00","r":27.8},{"t":"2022-08-19T20:00","r":30},{"t":"2022-08-20T00:00","r":32.2},{"t":"2022-08-20T08:00","r":35.3},{"t":"2022-08-20T12:00","r":35.8},{"t":"2022-08-20T16:00","r":33.6},{"t":"2022-08-21T00:00","r":34.5},{"t":"2022-08-21T04:00","r":41.1},{"t":"2022-08-21T08:00","r":42.4},{"t":"2022-08-21T12:00","r":42},{"t":"2022-08-21T16:00","r":42.9},{"t":"2022-08-22T00:00","r":36.7},{"t":"2022-08-22T04:00","r":36.7},{"t":"2022-08-22T08:00","r":37.6},{"t":"2022-08-22T16:00","r":36.7},{"t":"2022-08-22T20:00","r":47.8},{"t":"2022-08-23T00:00","r":45.6},{"t":"2022-08-23T04:00","r":49.1},{"t":"2022-08-23T12:00","r":47.8},{"t":"2022-08-23T16:00","r":50.9},{"t":"2022-08-23T20:00","r":45.6},{"t":"2022-08-24T04:00","r":50},{"t":"2022-08-24T08:00","r":52.2},{"t":"2022-08-24T12:00","r":54.4},{"t":"2022-08-24T16:00","r":55.8},{"t":"2022-08-24T20:00","r":52.2},{"t":"2022-08-25T04:00","r":53.6},{"t":"2022-08-25T08:00","r":52.2},{"t":"2022-08-25T16:00","r":54.4},{"t":"2022-08-25T20:00","r":52.2},{"t":"2022-08-26T00:00","r":55.3},{"t":"2022-08-26T04:00","r":56.7},{"t":"2022-08-26T08:00","r":59.8},{"t":"2022-08-26T12:00","r":43.3},{"t":"2022-08-26T16:00","r":43.3},{"t":"2022-08-26T20:00","r":42},{"t":"2022-08-27T04:00","r":36.7},{"t":"2022-08-27T08:00","r":40.2},{"t":"2022-08-27T12:00","r":38.9},{"t":"2022-08-27T20:00","r":38.9},{"t":"2022-08-28T00:00","r":38.9},{"t":"2022-08-28T04:00","r":39.8},{"t":"2022-08-28T12:00","r":38.9},{"t":"2022-08-28T16:00","r":36.7},{"t":"2022-08-28T20:00","r":28.7},{"t":"2022-08-29T00:00","r":28.7},{"t":"2022-08-29T04:00","r":29.5},{"t":"2022-08-29T08:00","r":36.7},{"t":"2022-08-29T12:00","r":41}
],
"rsima":[
{"t":"2022-07-18T12:00","m":65.5},{"t":"2022-07-19T04:00","m":62.4},{"t":"2022-07-20T00:00","m":58.9},{"t":"2022-07-20T16:00","m":56.7},{"t":"2022-07-21T12:00","m":54.4},{"t":"2022-07-22T04:00","m":53.6},{"t":"2022-07-23T00:00","m":50},{"t":"2022-07-23T16:00","m":49.1},{"t":"2022-07-24T08:00","m":48.7},{"t":"2022-07-25T04:00","m":47.8},{"t":"2022-07-25T20:00","m":43.3},{"t":"2022-07-26T08:00","m":38.9},{"t":"2022-07-26T20:00","m":36.7},{"t":"2022-07-27T04:00","m":36.7},{"t":"2022-07-27T16:00","m":41.1},{"t":"2022-07-28T04:00","m":46.9},{"t":"2022-07-28T12:00","m":52.2},{"t":"2022-07-29T00:00","m":56.7},{"t":"2022-07-29T12:00","m":59.8},{"t":"2022-07-29T20:00","m":61.1},{"t":"2022-07-30T08:00","m":62.4},{"t":"2022-07-30T20:00","m":63.3},{"t":"2022-07-31T08:00","m":63.3},{"t":"2022-07-31T20:00","m":62.4},{"t":"2022-08-01T12:00","m":61.1},{"t":"2022-08-02T08:00","m":56.7},{"t":"2022-08-03T00:00","m":49.1},{"t":"2022-08-03T16:00","m":47.8},{"t":"2022-08-04T12:00","m":46.9},{"t":"2022-08-05T04:00","m":47.8},{"t":"2022-08-06T00:00","m":49.1},{"t":"2022-08-06T16:00","m":50},{"t":"2022-08-07T12:00","m":50},{"t":"2022-08-08T04:00","m":52.2},{"t":"2022-08-08T20:00","m":53.6},{"t":"2022-08-09T04:00","m":50.9},{"t":"2022-08-10T00:00","m":47.8},{"t":"2022-08-10T16:00","m":48.7},{"t":"2022-08-11T12:00","m":50},{"t":"2022-08-12T04:00","m":52.2},{"t":"2022-08-12T20:00","m":53.6},{"t":"2022-08-13T16:00","m":54.4},{"t":"2022-08-14T08:00","m":54.4},{"t":"2022-08-15T04:00","m":52.2},{"t":"2022-08-15T20:00","m":49.1},{"t":"2022-08-16T16:00","m":47.8},{"t":"2022-08-17T08:00","m":49.1},{"t":"2022-08-18T00:00","m":50},{"t":"2022-08-18T20:00","m":50},{"t":"2022-08-19T12:00","m":42},{"t":"2022-08-20T08:00","m":37.6},{"t":"2022-08-21T00:00","m":33.1},{"t":"2022-08-21T20:00","m":36.7},{"t":"2022-08-22T12:00","m":37.6},{"t":"2022-08-23T04:00","m":40.2},{"t":"2022-08-24T00:00","m":44.7},{"t":"2022-08-24T16:00","m":47.8},{"t":"2022-08-25T12:00","m":50.9},{"t":"2022-08-26T04:00","m":52.2},{"t":"2022-08-27T00:00","m":47.8},{"t":"2022-08-27T16:00","m":45.6},{"t":"2022-08-28T08:00","m":41.1},{"t":"2022-08-29T04:00","m":37.6},{"t":"2022-08-29T12:00","m":36.7}
],
"ticks":[{"t":"2022-07-25T00:00"},{"t":"2022-08-01T00:00"},{"t":"2022-08-08T00:00"},{"t":"2022-08-15T00:00"},{"t":"2022-08-22T00:00"},{"t":"2022-09-01T00:00"},{"t":"2022-09-12T00:00"}]
},
"vconcat":[
{
"width":1504,"height":476,
"resolve":{"scale":{"y":"independent"}},
"layer":[
{
"layer":[
{"data":{"name":"ticks"},
"mark":{"type":"rule","color":"#f0f3fa","strokeWidth":1},
"encoding":{
"x":{"field":"t","type":"temporal","title":null,"scale":{"domain":[{"year":2022,"month":"jul","date":18,"hours":10,"minutes":11},{"year":2022,"month":"sep","date":23,"hours":1,"minutes":21}]},
"axis":{"labels":false,"ticks":false,"domain":false,"grid":false,"title":null,"minExtent":0,"maxExtent":0}},
"y":{"datum":0.29818,"type":"quantitative","title":null,"scale":{"type":"log","domain":[0.29818,0.4353],"nice":false,"zero":false},"axis":null},
"y2":{"datum":0.4353}
}},
{"data":{"values":[{"p":0.31},{"p":0.325},{"p":0.34},{"p":0.36},{"p":0.38},{"p":0.40},{"p":0.42}]},
"mark":{"type":"rule","color":"#f0f3fa","strokeWidth":1},
"encoding":{
"x":{"datum":{"year":2022,"month":"jul","date":18,"hours":10,"minutes":11},"type":"temporal","title":null},
"x2":{"datum":{"year":2022,"month":"sep","date":18,"hours":13,"minutes":58}},
"y":{"field":"p","type":"quantitative","title":null,"axis":null}
}},
{"data":{"values":[{"t1":"2022-07-18T10:11","t2":"2022-07-20T22:30","p1":0.3552,"p2":0.3787}]},
"mark":{"type":"rect","color":"#ce93d8","opacity":0.45},
"encoding":{
"x":{"field":"t1","type":"temporal","title":null},"x2":{"field":"t2"},
"y":{"field":"p1","type":"quantitative","title":null,"axis":null},"y2":{"field":"p2"}
}}
]
},
{"data":{"name":"candles"},
"mark":{"type":"rule","strokeWidth":2.2,"opacity":0.5},
"encoding":{
"x":{"field":"t","type":"temporal","title":null},
"y":{"field":"v","type":"quantitative","title":null,"scale":{"domain":[-6,1422],"nice":false},"axis":null},
"y2":{"datum":0},
"color":{"condition":{"test":"datum.c >= datum.o","value":"#26a69a"},"value":"#ef5350"}
}},
{
"layer":[
{"data":{"name":"candles"},
"mark":{"type":"rule","strokeWidth":1},
"encoding":{
"x":{"field":"t","type":"temporal","title":null},
"y":{"field":"l","type":"quantitative","title":null,"scale":{"type":"log","domain":[0.29818,0.4353],"nice":false,"zero":false},
"axis":{"orient":"right","offset":-101,"values":[0.31,0.34,0.38,0.40,0.42],"format":".4f","title":null,"ticks":false,"domain":false,"grid":false,"labelPadding":16,"labelFontSize":17,"labelColor":"#131722","labelOverlap":false,"labelFlush":false}},
"y2":{"field":"h"},
"color":{"condition":{"test":"datum.c >= datum.o","value":"#26a69a"},"value":"#ef5350"}
}},
{"data":{"name":"candles"},
"mark":{"type":"bar","width":2.6},
"encoding":{
"x":{"field":"t","type":"temporal","title":null},
"y":{"field":"o","type":"quantitative","title":null},
"y2":{"field":"c"},
"color":{"condition":{"test":"datum.c >= datum.o","value":"#26a69a"},"value":"#ef5350"}
}},
{"data":{"name":"maRed"},
"mark":{"type":"line","color":"#f23645","strokeWidth":1.6},
"encoding":{"x":{"field":"t","type":"temporal","title":null},"y":{"field":"p","type":"quantitative","title":null}}},
{"data":{"name":"maBlue"},
"mark":{"type":"line","color":"#2233ff","strokeWidth":1.6},
"encoding":{"x":{"field":"t","type":"temporal","title":null},"y":{"field":"p","type":"quantitative","title":null}}},
{"data":{"name":"lines"},"transform":[{"filter":"datum.name == 'U' || datum.name == 'L'"}],
"mark":{"type":"rule","color":"#f23645","strokeWidth":1.6},
"encoding":{"x":{"field":"t1","type":"temporal","title":null},"x2":{"field":"t2"},"y":{"field":"p1","type":"quantitative","title":null},"y2":{"field":"p2"}}},
{"data":{"name":"lines"},"transform":[{"filter":"datum.name == 'M'"}],
"mark":{"type":"rule","color":"#f23645","strokeWidth":1.6,"strokeDash":[7,6]},
"encoding":{"x":{"field":"t1","type":"temporal","title":null},"x2":{"field":"t2"},"y":{"field":"p1","type":"quantitative","title":null},"y2":{"field":"p2"}}},
{"data":{"name":"lines"},"transform":[{"filter":"datum.name == 'R'"}],
"mark":{"type":"rule","color":"#b22833","strokeWidth":1.6},
"encoding":{"x":{"field":"t1","type":"temporal","title":null},"x2":{"field":"t2"},"y":{"field":"p1","type":"quantitative","title":null},"y2":{"field":"p2"}}},
{"data":{"name":"lines"},"transform":[{"filter":"datum.name == 'B1' || datum.name == 'B2'"}],
"mark":{"type":"rule","color":"#000000","strokeWidth":1.6},
"encoding":{"x":{"field":"t1","type":"temporal","title":null},"x2":{"field":"t2"},"y":{"field":"p1","type":"quantitative","title":null},"y2":{"field":"p2"}}},
{"data":{"name":"lines"},"transform":[{"filter":"datum.name == 'D'"}],
"mark":{"type":"rule","color":"#434651","strokeWidth":1.5,"strokeDash":[7,6]},
"encoding":{"x":{"field":"t1","type":"temporal","title":null},"x2":{"field":"t2"},"y":{"field":"p1","type":"quantitative","title":null},"y2":{"field":"p2"}}},
{"data":{"name":"lines"},"transform":[{"filter":"datum.name == 'H'"}],
"mark":{"type":"rule","color":"#000000","strokeWidth":3},
"encoding":{"x":{"field":"t1","type":"temporal","title":null},"x2":{"field":"t2"},"y":{"field":"p1","type":"quantitative","title":null},"y2":{"field":"p2"}}},
{"data":{"values":[{"t1":"2022-07-18T10:11","t2":"2022-09-18T13:58","p":0.3284}]},
"mark":{"type":"rule","color":"#26a69a","strokeWidth":1,"strokeDash":[1,3]},
"encoding":{"x":{"field":"t1","type":"temporal","title":null},"x2":{"field":"t2"},"y":{"field":"p","type":"quantitative","title":null}}},
{"data":{"values":[
{"t":"2022-07-18T21:53","p":0.4261,"label":"XRP / TetherUS, 4h, BINANCE"},
{"t":"2022-07-31T14:00","p":0.4261,"label":"O"},
{"t":"2022-08-04T12:37","p":0.4261,"label":"H"},
{"t":"2022-08-08T10:10","p":0.4261,"label":"L"},
{"t":"2022-08-12T04:33","p":0.4261,"label":"C"},
{"t":"2022-07-18T21:53","p":0.4167,"label":"Vol"},
{"t":"2022-07-18T21:53","p":0.4075,"label":"MA"},
{"t":"2022-07-18T21:53","p":0.3985,"label":"MA"}]},
"mark":{"type":"text","align":"left","baseline":"middle","fontSize":19,"color":"#131722"},
"encoding":{"x":{"field":"t","type":"temporal","title":null},"y":{"field":"p","type":"quantitative","title":null},"text":{"field":"label"}}},
{"data":{"values":[
{"t":"2022-08-01T04:52","p":0.4261,"label":"0.3282"},
{"t":"2022-08-05T03:30","p":0.4261,"label":"0.3306"},
{"t":"2022-08-08T22:57","p":0.4261,"label":"0.3265"},
{"t":"2022-08-12T20:30","p":0.4261,"label":"0.3284"}]},
"mark":{"type":"text","align":"left","baseline":"middle","fontSize":19,"color":"#26a69a"},
"encoding":{"x":{"field":"t","type":"temporal","title":null},"y":{"field":"p","type":"quantitative","title":null},"text":{"field":"label"}}},
{"data":{"values":[{"t":"2022-07-30T10:20","p":0.4193,"label":"C"}]},
"mark":{"type":"text","align":"center","baseline":"middle","fontSize":17,"fontWeight":"bold","color":"#b22833"},
"encoding":{"x":{"field":"t","type":"temporal","title":null},"y":{"field":"p","type":"quantitative","title":null},"text":{"field":"label"}}},
{"data":{"values":[{"t":"2022-08-15T08:02","p":0.43219,"label":"(4)"}]},
"mark":{"type":"text","align":"center","baseline":"middle","fontSize":26,"color":"#434651","clip":true},
"encoding":{"x":{"field":"t","type":"temporal","title":null},"y":{"field":"p","type":"quantitative","title":null},"text":{"field":"label"}}},
{"data":{"values":[{"t1":"2022-09-18T16:05","t2":"2022-09-23T01:21","p1":0.42033,"p2":0.4329}]},
"mark":{"type":"rect","color":"#ffffff"},
"encoding":{"x":{"field":"t1","type":"temporal","title":null},"x2":{"field":"t2"},"y":{"field":"p1","type":"quantitative","title":null},"y2":{"field":"p2"}}},
{"data":{"values":[{"t":"2022-09-19T08:01","p":0.42707,"label":"USDT"}]},
"mark":{"type":"text","align":"left","baseline":"middle","fontSize":17,"fontWeight":500,"color":"#131722"},
"encoding":{"x":{"field":"t","type":"temporal","title":null},"y":{"field":"p","type":"quantitative","title":null},"text":{"field":"label"}}},
{"data":{"values":[{"t1":"2022-09-18T16:05","t2":"2022-09-22T17:54","p1":0.3557,"p2":0.3617}]},
"mark":{"type":"rect","color":"#000000","cornerRadius":2},
"encoding":{"x":{"field":"t1","type":"temporal","title":null},"x2":{"field":"t2"},"y":{"field":"p1","type":"quantitative","title":null},"y2":{"field":"p2"}}},
{"data":{"values":[{"t1":"2022-09-18T16:05","t2":"2022-09-22T17:54","p1":0.3190,"p2":0.3312}]},
"mark":{"type":"rect","color":"#26a69a","cornerRadius":2},
"encoding":{"x":{"field":"t1","type":"temporal","title":null},"x2":{"field":"t2"},"y":{"field":"p1","type":"quantitative","title":null},"y2":{"field":"p2"}}},
{"data":{"values":[{"t":"2022-09-19T08:01","p":0.3586,"label":"0.3586"},{"t":"2022-09-19T08:01","p":0.3280,"label":"0.3284"}]},
"mark":{"type":"text","align":"left","baseline":"middle","fontSize":17,"color":"#ffffff"},
"encoding":{"x":{"field":"t","type":"temporal","title":null},"y":{"field":"p","type":"quantitative","title":null},"text":{"field":"label"}}},
{"data":{"values":[{"t":"2022-09-19T08:01","p":0.3223,"label":"58:29"}]},
"mark":{"type":"text","align":"left","baseline":"middle","fontSize":17,"color":"#e0f2f1"},
"encoding":{"x":{"field":"t","type":"temporal","title":null},"y":{"field":"p","type":"quantitative","title":null},"text":{"field":"label"}}}
]
}
]
},
{
"width":1504,"height":91,
"layer":[
{"data":{"name":"ticks"},
"mark":{"type":"rule","color":"#f0f3fa","strokeWidth":1},
"encoding":{
"x":{"field":"t","type":"temporal","title":null,"scale":{"domain":[{"year":2022,"month":"jul","date":18,"hours":10,"minutes":11},{"year":2022,"month":"sep","date":23,"hours":1,"minutes":21}]},
"axis":{"orient":"bottom","offset":-37,"values":[{"year":2022,"month":"jul","date":25},{"year":2022,"month":"aug","date":1},{"year":2022,"month":"aug","date":8},{"year":2022,"month":"aug","date":15},{"year":2022,"month":"aug","date":22},{"year":2022,"month":"sep","date":1},{"year":2022,"month":"sep","date":12}],
"labelExpr":"date(datum.value) == 1 ? timeFormat(datum.value, '%b') : timeFormat(datum.value, '%-d')","grid":false,"ticks":false,"domain":false,"title":null,"labelFontSize":17,"labelColor":"#131722","labelPadding":9,"labelFlush":false,"labelOverlap":false}},
"y":{"datum":14.4,"type":"quantitative","title":null,"scale":{"domain":[-41.6,79.7],"nice":false,"zero":false},"axis":null},
"y2":{"datum":79.7}
}},
{"data":{"values":[{"lo":30,"hi":70}]},
"mark":{"type":"rect","color":"#7e57c2","opacity":0.1},
"encoding":{
"x":{"datum":{"year":2022,"month":"jul","date":18,"hours":10,"minutes":11},"type":"temporal","title":null},
"x2":{"datum":{"year":2022,"month":"sep","date":18,"hours":13,"minutes":58}},
"y":{"field":"lo","type":"quantitative","title":null},
"y2":{"field":"hi"}
}},
{"data":{"values":[{"r":70},{"r":30}]},
"mark":{"type":"rule","color":"#787b86","strokeWidth":1.5,"strokeDash":[6,5]},
"encoding":{"x":{"datum":{"year":2022,"month":"jul","date":18,"hours":10,"minutes":11},"type":"temporal","title":null},"x2":{"datum":{"year":2022,"month":"sep","date":18,"hours":13,"minutes":58}},"y":{"field":"r","type":"quantitative","title":null}}},
{"data":{"values":[{"r":50}]},
"mark":{"type":"rule","color":"#b2b5be","strokeWidth":1,"strokeDash":[5,5]},
"encoding":{"x":{"datum":{"year":2022,"month":"jul","date":18,"hours":10,"minutes":11},"type":"temporal","title":null},"x2":{"datum":{"year":2022,"month":"sep","date":18,"hours":13,"minutes":58}},"y":{"field":"r","type":"quantitative","title":null}}},
{"data":{"name":"rsima"},
"mark":{"type":"line","color":"#f5e50b","strokeWidth":1.6},
"encoding":{"x":{"field":"t","type":"temporal","title":null},"y":{"field":"m","type":"quantitative","title":null}}},
{"data":{"name":"rsi"},
"mark":{"type":"line","color":"#7e57c2","strokeWidth":1.6},
"encoding":{"x":{"field":"t","type":"temporal","title":null},"y":{"field":"r","type":"quantitative","title":null}}},
{"data":{"values":[{"t":"2022-07-19T02:08","r":47.7,"label":"RSI"}]},
"mark":{"type":"text","align":"left","baseline":"middle","fontSize":17,"color":"#131722"},
"encoding":{"x":{"field":"t","type":"temporal","title":null},"y":{"field":"r","type":"quantitative","title":null},"text":{"field":"label"}}},
{"data":{"values":[{"t":"2022-07-18T11:16","r":-82.9,"label":"17"}]},
"mark":{"type":"text","align":"left","baseline":"middle","fontSize":24,"fontWeight":900,"color":"#131722"},
"encoding":{"x":{"field":"t","type":"temporal","title":null},"y":{"field":"r","type":"quantitative","title":null},"text":{"field":"label"}}},
{"data":{"values":[{"t":"2022-07-20T02:36","r":-82.9,"label":"TradingView"}]},
"mark":{"type":"text","align":"left","baseline":"middle","fontSize":21,"fontWeight":400,"color":"#131722"},
"encoding":{"x":{"field":"t","type":"temporal","title":null},"y":{"field":"r","type":"quantitative","title":null},"text":{"field":"label"}}}
]
}
]
}
